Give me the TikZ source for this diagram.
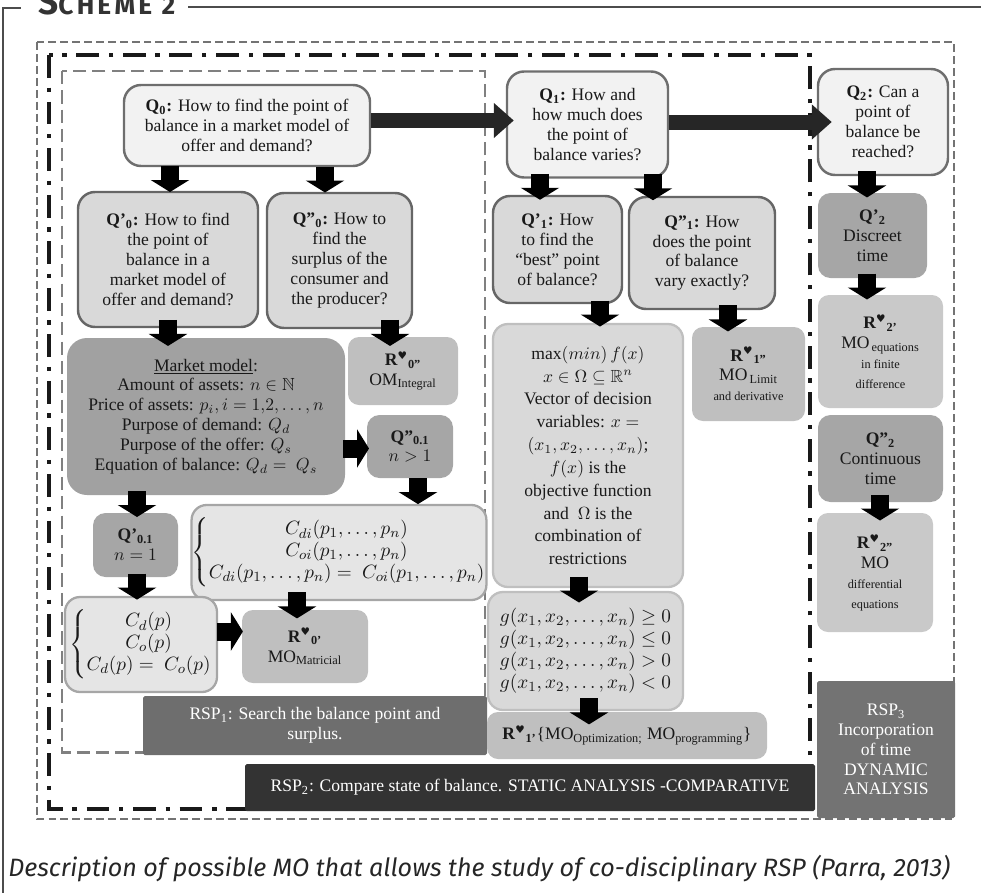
\documentclass[tikz,border=0pt]{standalone}
\usepackage{amsmath,amssymb}
\usepackage{fontspec}
\setmainfont{Liberation Serif}
\newfontfamily\capfont{Fira Sans}
\newfontfamily\symf{DejaVu Sans}
\usetikzlibrary{arrows.meta,calc}
\newcommand\hrt{{\symf\fontsize{6}{6}\selectfont ♥}}
\newcommand\Rh[1]{\textbf{R}\textsuperscript{\hrt}\textsubscript{\textbf{#1}}}
\begin{document}
\begin{tikzpicture}[x=0.02cm,y=-0.02cm,
	every node/.style={inner sep=0pt,align=center,text=black!90,font=\fontsize{10}{11.3}\selectfont},
	sz/.style n args={2}{minimum width=#1*0.02cm,minimum height=#2*0.02cm},
	qmain/.style={draw=black!57,line width=1.4pt,fill=black!5,rounded corners=0.34cm},
	qsub/.style={draw=black!60,line width=1.4pt,fill=black!15,rounded corners=0.34cm},
	qmid/.style={fill=black!35,rounded corners=0.25cm},
	resp/.style={fill=black!25,rounded corners=0.22cm},
	eqbox/.style={draw=black!35,line width=1.3pt,fill=black!10,rounded corners=0.3cm,font=\fontsize{11}{12.5}\selectfont},
	rsp/.style={fill=#1,text=white,rounded corners=1pt},
	darr/.style={line width=0.36cm,-{Triangle[length=0.24cm,width=0.76cm]}},
	bigarr/.style={line width=0.3cm,black!85,-{Triangle[length=0.4cm,width=0.68cm]}}]
	\useasboundingbox (0,0) rectangle (981,893);
	\draw[black!70,line width=1.1pt] (3,893) -- (3,8) -- (21,8);
	\draw[black!70,line width=1.1pt] (188,7) -- (981,7);
	\node[anchor=base west,text=black!80,font=\capfont\bfseries] (title) at (38,14) {\addfontfeatures{LetterSpace=12}{\fontsize{20}{20}\selectfont S}{\fontsize{15}{15}\selectfont CHEME 2}};
	
	\draw[black!55,line width=1.3pt,dash pattern=on 4.5pt off 2.3pt] (37,42) rectangle (954,819);
	\draw[black!90,line width=1.9pt,dash pattern=on 13pt off 5.5pt on 2.5pt off 5.5pt] (49,55) rectangle (810,809);
	\draw[black!50,line width=1.7pt,dash pattern=on 7.5pt off 3.5pt] (62,71) rectangle (485,752);
	
	\node[qmain,sz={246}{81}] (q0) at (247,125.5) {\textbf{Q\textsubscript{0}:} How to find the point of\\balance in a market model of\\offer and demand?};
	\node[qmain,sz={161}{106}] (q1) at (587.5,124.5) {\textbf{Q\textsubscript{1}:} How and\\how much does\\the point of\\balance varies?};
	\node[qmain,sz={130}{106}] (q2) at (883,122) {\textbf{Q\textsubscript{2}:} Can a\\point of\\balance be\\reached?};
	
	\node[qsub,sz={180}{135}] (qa0) at (168,259.5) {\textbf{Q'\textsubscript{0}:} How to find\\the point of\\balance in a\\market model of\\offer and demand?};
	\node[qsub,sz={145}{135}] (qb0) at (339.5,260.5) {\textbf{Q''\textsubscript{0}:} How to\\find the\\surplus of the\\consumer and\\the producer?};
	\node[fill=black!37,rounded corners=0.4cm,sz={278}{157}] (market) at (206,416.5) {\underline{Market model}:\\Amount of assets: $n\in\mathbb{N}$\\Price of assets: $p_i, i=1{,}2,\dots,n$\\Purpose of demand: $Q_d$\\Purpose of the offer: $Q_s$\\Equation of balance: $Q_d=\ Q_s$};
	\node[resp,sz={110}{68}] (rb0) at (403,371) {\Rh{0''}\\OM\textsubscript{Integral}};
	\node[qmid,sz={86}{63}] (qb01) at (410,446.5) {\textbf{Q''\textsubscript{0.1}}\\$n>1$};
	\node[eqbox,sz={272}{95}] (cdi) at (339,552.5) {$\left\{\begin{array}{@{}c@{}}C_{di}(p_1,\dots,p_n)\\C_{oi}(p_1,\dots,p_n)\\C_{di}(p_1,\dots,p_n)=\ C_{oi}(p_1,\dots,p_n)\end{array}\right.$};
	\node[qmid,sz={85}{64}] (qa01) at (135.5,545) {\textbf{Q'\textsubscript{0.1}}\\$n=1$};
	\node[eqbox,sz={152}{95}] (cd) at (141,644.5) {$\left\{\begin{array}{@{}c@{}}C_d(p)\\C_o(p)\\C_d(p)=\ C_o(p)\end{array}\right.$};
	\node[resp,sz={126}{73}] (ra0) at (305,646.5) {\Rh{0'}\\MO\textsubscript{Matricial}};
	\node[rsp=black!57,sz={344}{59}] (rsp1) at (315,725.5) {RSP\textsubscript{1}: Search the balance point and\\surplus.};
	
	\node[qsub,sz={129}{107}] (qa1) at (557.5,249.5) {\textbf{Q'\textsubscript{1}:} How\\to find the\\``best'' point\\of balance?};
	\node[qsub,sz={146}{112}] (qb1) at (702,253) {\textbf{Q''\textsubscript{1}:} How\\does the point\\of balance\\vary exactly?};
	\node[eqbox,fill=black!15,draw=black!25,sz={190}{263},font=\fontsize{10}{13}\selectfont] (opt) at (588,455.5) {$\max(min)\,f(x)$\\$x\in\Omega\subseteq\mathbb{R}^n$\\Vector of decision\\variables: $x=$\\$(x_1,x_2,\dots,x_n)$;\\$f(x)$ is the\\objective function\\and\ \ $\Omega$ is the\\combination of\\restrictions};
	\node[resp,sz={113}{94}] (rb1) at (748.5,374) {\Rh{1''}\\MO\textsubscript{\,Limit}\\{\scriptsize and derivative}};
	\node[eqbox,fill=black!15,draw=black!25,sz={195}{118}] (g) at (585.5,651) {$g(x_1,x_2,\dots,x_n)\geq 0$\\$g(x_1,x_2,\dots,x_n)\leq 0$\\$g(x_1,x_2,\dots,x_n)>0$\\$g(x_1,x_2,\dots,x_n)<0$};
	\node[resp,sz={280}{47}] (ra1) at (627,735.5) {\Rh{1'}\{MO\textsubscript{Optimization;} MO\textsubscript{programming}\}};
	
	\node[qmid,sz={109}{85}] (qa2) at (872.5,235.5) {\textbf{Q'\textsubscript{2}}\\Discreet\\time};
	\node[resp,fill=black!21,sz={125}{113}] (ra2) at (880.5,351.5) {\Rh{2'}\\MO\textsubscript{\,equations}\\{\scriptsize in finite}\\{\scriptsize difference}};
	\node[qmid,sz={125}{87}] (qb2) at (880.5,458.5) {\textbf{Q''\textsubscript{2}}\\Continuous\\time};
	\node[resp,fill=black!21,sz={116}{119}] (rb2) at (875,572.5) {\Rh{2''}\\MO\\{\scriptsize differential}\\{\scriptsize equations}};
	\node[rsp=black!55,sz={138}{137}] (rsp3) at (886,749.5) {RSP\textsubscript{3}\\Incorporation\\of time\\DYNAMIC\\ANALYSIS};
	\node[rsp=black!80,sz={570}{47}] (rsp2) at (530,787.5) {RSP\textsubscript{2}: Compare state of balance. STATIC ANALYSIS -COMPARATIVE};
	
	\draw[bigarr] ($(q0.east |- q1.west)+(0,-4)$) -- ($(q1.west)+(8,-4)$);
	\draw[bigarr] (q1.east |- q2.west) -- ($(q2.west)+(15,0)$);
	\foreach \a/\b/\d in {q0/qa0/2,q0/qb0/-14.5,q1/qa1/-17.5,q1/qb1/-49,q2/qa2/-5.5,qa0/market/-38,qb0/rb0/-13,market/qa01/1.5,qa01/cd/-4,qb01/cdi/79,cdi/ra0/-8,qa1/opt/12,qb1/rb1/-20.5,opt/g/-6.5,g/ra1/-38,qa2/ra2/-13.5,qb2/rb2/5}
		\draw[darr] ($(\a.south -| \b.north)!.5!(\b.north)+(\d,-13)$) -- ($(\a.south -| \b.north)!.5!(\b.north)+(\d,13)$);
	\draw[darr] ($(market.east |- qb01.west)!.5!(qb01.west)+(-13,2)$) -- ($(market.east |- qb01.west)!.5!(qb01.west)+(13,2)$);
	\draw[darr] ($(cd.east |- ra0.west)!.5!(ra0.west)+(-13,-15)$) -- ($(cd.east |- ra0.west)!.5!(ra0.west)+(13,-15)$);
	
	\node[anchor=base west,text=black!85,font=\capfont\itshape\fontsize{14.3}{14.3}\selectfont] (caption) at (8,876) {Description of possible MO that allows the study of co-disciplinary RSP (Parra, 2013)};
\end{tikzpicture}
\end{document}
